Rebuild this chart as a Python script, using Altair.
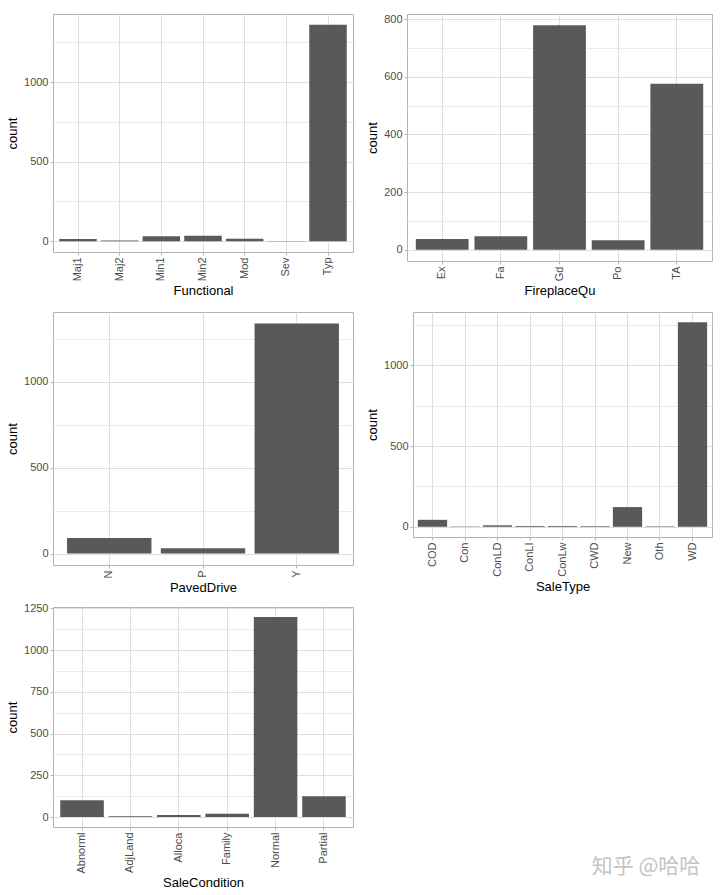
import altair as alt
import pandas as pd

functional_cats = ["Maj1", "Maj2", "Min1", "Min2", "Mod", "Sev", "Typ"]
functional_counts = [14, 5, 31, 34, 15, 1, 1360]
fireplace_cats = ["Ex", "Fa", "Gd", "Po", "TA"]
fireplace_counts = [37, 47, 779, 33, 576]
paved_cats = ["N", "P", "Y"]
paved_counts = [90, 30, 1340]
saletype_cats = ["COD", "Con", "ConLD", "ConLI", "ConLw", "CWD", "New", "Oth", "WD"]
saletype_counts = [43, 2, 9, 5, 5, 4, 122, 3, 1267]
salecond_cats = ["Abnorml", "AdjLand", "Alloca", "Family", "Normal", "Partial"]
salecond_counts = [101, 4, 12, 20, 1198, 125]

functional_ticks = [0, 250, 500, 750, 1000, 1250]
fireplace_ticks = [0, 100, 200, 300, 400, 500, 600, 700, 800]
paved_ticks = [0, 250, 500, 750, 1000, 1250]
saletype_ticks = [0, 250, 500, 750, 1000, 1250]
salecond_ticks = [0, 125, 250, 375, 500, 625, 750, 875, 1000, 1125, 1250]

watermark_text = "知乎 @哈哈"

FONT = "Liberation Sans"
BAR = "#595959"
GRID = "#DEDEDE"
FRAME = "#B3B3B3"


def panel(cats, counts, name, ticks, major, w, h):
    df = pd.DataFrame({name: cats, "count": counts})
    hi = max(counts)
    dom = [-0.05 * hi, 1.05 * hi]
    test = f"datum.value % {major} === 0"
    return alt.Chart(df).mark_bar(color=BAR).encode(
        x=alt.X(f"{name}:N", sort=cats,
                scale=alt.Scale(paddingInner=0.1, paddingOuter=0.15),
                axis=alt.Axis(title=name, labelAngle=270, grid=True,
                              titleFontWeight="normal")),
        y=alt.Y("count:Q",
                scale=alt.Scale(domain=dom, nice=False, zero=False),
                axis=alt.Axis(title="count", values=ticks, format="d",
                              titleFontWeight="normal",
                              labelExpr=f"{test} ? datum.label : ''",
                              gridWidth={"condition": {"test": test, "value": 1}, "value": 0.6},
                              tickOpacity={"condition": {"test": test, "value": 1}, "value": 0})),
    ).properties(width=w, height=h)


p1 = panel(functional_cats, functional_counts, "Functional", functional_ticks, 500, 300, 238)
p2 = panel(fireplace_cats, fireplace_counts, "FireplaceQu", fireplace_ticks, 200, 305, 247)
p3 = panel(paved_cats, paved_counts, "PavedDrive", paved_ticks, 500, 300, 253)
p4 = panel(saletype_cats, saletype_counts, "SaleType", saletype_ticks, 500, 299, 225)
p5 = panel(salecond_cats, salecond_counts, "SaleCondition", salecond_ticks, 250, 300, 220)

wm = alt.Chart(pd.DataFrame({"t": [watermark_text]})).mark_text(
    font="Noto Sans CJK SC", fontSize=21, color="#C4C4C4", align="center", baseline="middle"
).encode(
    text="t:N", x=alt.value(280), y=alt.value(260)
).properties(width=330, height=220, view=alt.ViewBackground(strokeOpacity=0))

row1 = alt.hconcat(p1, p2, spacing=12)
row2 = alt.hconcat(p3, p4, spacing=12)
row3 = alt.hconcat(p5, wm, spacing=12)

top = alt.vconcat(row1, row2, spacing=12)
chart = alt.vconcat(top, row3, spacing=5).properties(
    padding={"left": 6, "top": 12, "right": 2, "bottom": 2}
).configure(
    background="white"
).configure_view(
    stroke=FRAME, strokeWidth=1
).configure_axis(
    labelFont=FONT, labelFontSize=11, labelColor="#4D4D4D",
    titleFont=FONT, titleFontSize=13, titleColor="#000000", titleFontWeight="normal",
    domain=False, tickColor=FRAME, tickSize=3, gridColor=GRID,
    labelPadding=2, titlePadding=4
)

chart.save("out.html", embed_options={"renderer": "svg", "actions": False})
